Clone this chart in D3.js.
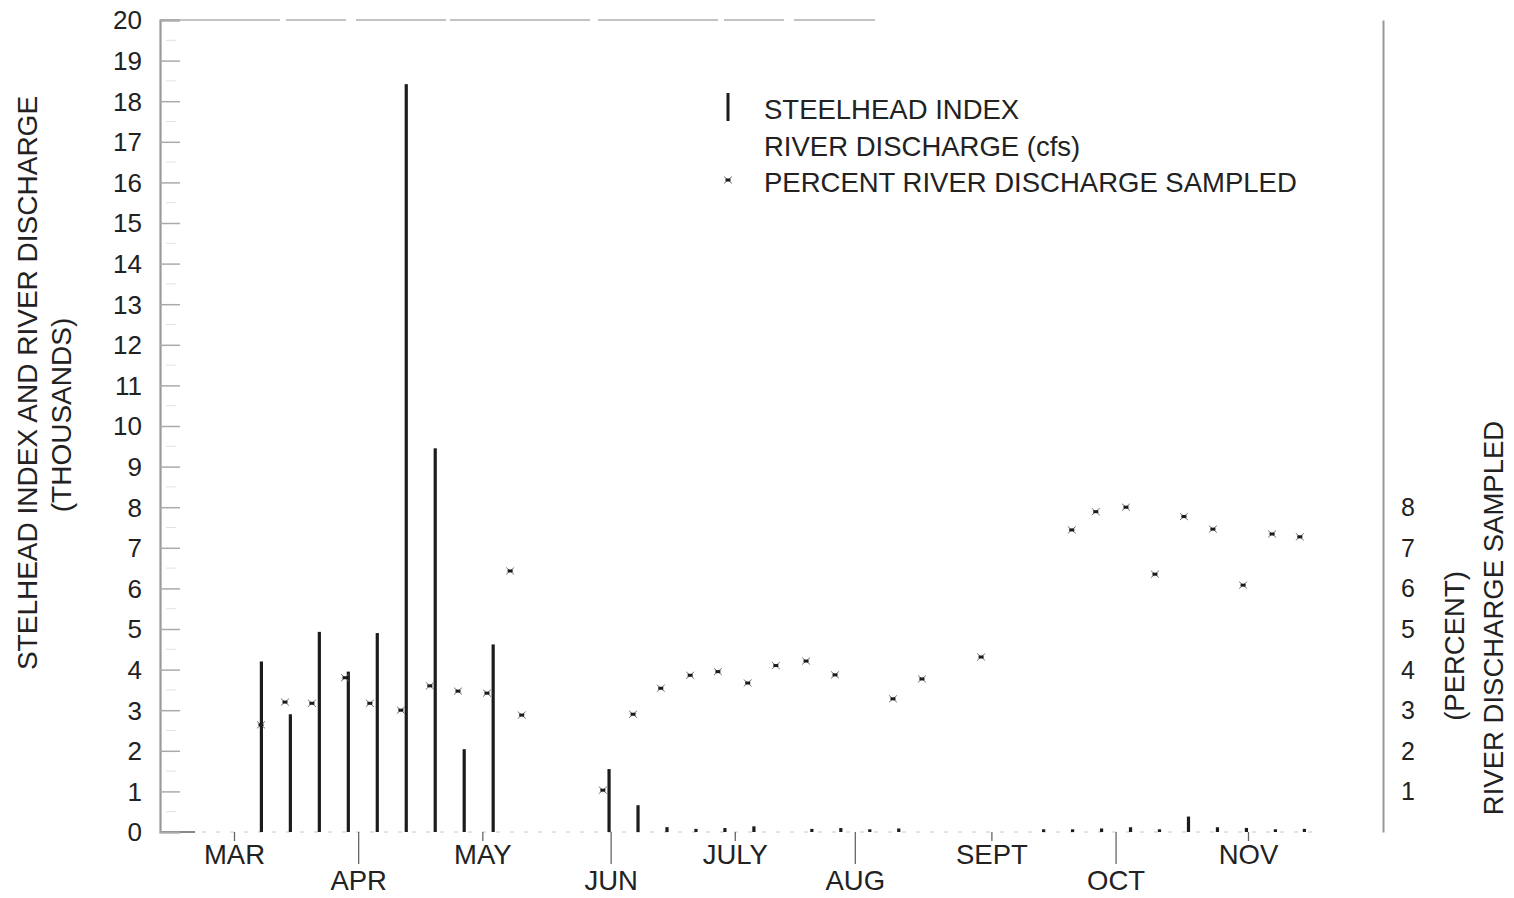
<!DOCTYPE html>
<html>
<head>
<meta charset="utf-8">
<script src="https://cdn.jsdelivr.net/npm/d3@7/dist/d3.min.js"></script>
<style>
  html, body { margin: 0; padding: 0; background: #fff; }
  svg { display: block; }
  text { font-family: "Liberation Sans", Arial, Helvetica, sans-serif; fill: #222; }
</style>
</head>
<body>
<svg id="chart" width="1514" height="898"></svg>
<script>
// ---- DATA ----
// Sample dates as days after March 1 (weekly sampling)
const indexDays = [6.5, 13.5, 20.5, 27.5, 34.5, 41.5, 48.5, 55.5, 62.5, 69.5, 76.5, 83.5,
  90.5, 97.5, 104.5, 111.5, 118.5, 125.5, 132.5, 139.5, 146.5, 153.5, 160.5,
  195.5, 202.5, 209.5, 216.5, 223.5, 230.5, 237.5, 244.5, 251.5, 258.5];
// Steelhead index (thousands)
const indexValues = [4.2, 2.9, 4.93, 3.95, 4.9, 18.42, 9.45, 2.04, 4.62, 0, 0, 0,
  1.55, 0.66, 0.12, 0.04, 0.06, 0.14, 0, 0.04, 0.06, 0.03, 0.05,
  0.03, 0.03, 0.05, 0.08, 0.03, 0.38, 0.08, 0.1, 0.03, 0.04];

// Percent river discharge sampled
const pctDays = [6.4, 12.2, 18.7, 26.7, 32.7, 40.2, 47.2, 54.0, 61.0, 66.6, 69.4,
  89.0, 96.3, 103.0, 110.1, 116.8, 124.0, 130.8, 138.1, 145.1, 159.1, 166.1,
  180.4, 202.3, 208.1, 215.4, 222.4, 229.4, 236.4, 243.7, 250.7, 257.4];
const pctValues = [2.64, 3.2, 3.17, 3.8, 3.17, 3.0, 3.6, 3.47, 3.42, 6.43, 2.88,
  1.03, 2.9, 3.54, 3.86, 3.95, 3.67, 4.1, 4.21, 3.87, 3.28, 3.77,
  4.31, 7.44, 7.89, 8.0, 6.35, 7.77, 7.46, 6.08, 7.34, 7.27];

// Month ticks (days after March 1) and labels
const monthDays = [0, 30, 60, 91, 121, 150, 183, 213, 245];
const monthLabels = ["MAR", "APR", "MAY", "JUN", "JULY", "AUG", "SEPT", "OCT", "NOV"];

const leftTicks = d3.range(0, 21);
const rightTicks = [1, 2, 3, 4, 5, 6, 7, 8];

const leftTitle = "STELHEAD INDEX AND RIVER DISCHARGE";
const leftSubtitle = "(THOUSANDS)";
const rightTitle = "RIVER DISCHARGE SAMPLED";
const rightSubtitle = "(PERCENT)";
const legendLabels = ["STEELHEAD INDEX", "RIVER DISCHARGE (cfs)", "PERCENT RIVER DISCHARGE SAMPLED"];

// ---- LAYOUT ----
const svg = d3.select("#chart");
const plotLeft = 160, plotRight = 1383, plotTop = 20, plotBottom = 832;
const FS = 27.5;

const x = d3.scaleLinear().domain([-18, 277.5]).range([plotLeft, plotRight]);
const y = d3.scaleLinear().domain([0, 20]).range([plotBottom, plotTop]);
const yR = d3.scaleLinear().domain([0, 20]).range([plotBottom, plotTop]);

// faint top border fragment
svg.append("line")
  .attr("x1", plotLeft).attr("x2", 875).attr("y1", plotTop).attr("y2", plotTop)
  .attr("stroke", "#b0b0b0").attr("stroke-width", 1.5)
  .attr("stroke-dasharray", "120,6,60,10,90,4,140,8");

// faint baseline
svg.append("line")
  .attr("x1", plotLeft).attr("x2", 1320).attr("y1", plotBottom).attr("y2", plotBottom)
  .attr("stroke", "#c8c8c8").attr("stroke-width", 1)
  .attr("stroke-dasharray", "4,10");
svg.append("line")
  .attr("x1", plotLeft).attr("x2", 195).attr("y1", plotBottom).attr("y2", plotBottom)
  .attr("stroke", "#888").attr("stroke-width", 2);

// Left axis
const leftAxis = d3.axisRight(y).tickValues(leftTicks).tickSize(20).tickFormat("");
const gL = svg.append("g").attr("transform", `translate(${plotLeft},0)`).call(leftAxis);
gL.select(".domain").attr("stroke", "#999").attr("stroke-width", 2.2);
gL.selectAll(".tick line").attr("stroke", "#aaa").attr("stroke-width", 1.5);
// half ticks
svg.append("g").selectAll("line")
  .data(d3.range(0.5, 20, 1)).join("line")
  .attr("x1", plotLeft + 6).attr("x2", plotLeft + 16)
  .attr("y1", d => y(d)).attr("y2", d => y(d))
  .attr("stroke", "#e2e2e2").attr("stroke-width", 1);
svg.append("g").selectAll("text")
  .data(leftTicks).join("text")
  .attr("x", 142).attr("y", d => y(d))
  .attr("dy", "0.36em").attr("text-anchor", "end")
  .attr("font-size", 26)
  .text(d => d);

// Right axis
const rightAxis = d3.axisRight(yR).tickValues(rightTicks).tickSize(0).tickFormat("");
const gR = svg.append("g").attr("transform", `translate(${plotRight},0)`).call(rightAxis);
gR.select(".domain").attr("stroke", "#999").attr("stroke-width", 2);
svg.append("g").selectAll("text")
  .data(rightTicks).join("text")
  .attr("x", 1408).attr("y", d => yR(d))
  .attr("dy", "0.36em").attr("text-anchor", "middle")
  .attr("font-size", 25)
  .text(d => d);

// Bottom month ticks & labels
const gM = svg.append("g");
gM.selectAll("line").data(monthDays).join("line")
  .attr("x1", d => x(d)).attr("x2", d => x(d))
  .attr("y1", plotBottom)
  .attr("y2", (d, i) => i % 2 ? plotBottom + 32 : plotBottom + 9)
  .attr("stroke", "#666").attr("stroke-width", 1.3);
gM.selectAll("text").data(monthDays).join("text")
  .attr("x", d => x(d))
  .attr("y", (d, i) => i % 2 ? 890 : 864)
  .attr("text-anchor", "middle")
  .attr("font-size", FS)
  .text((d, i) => monthLabels[i]);

// Bars: steelhead index
const bars = indexDays.map((d, i) => ({ day: d, v: indexValues[i] }));
svg.append("g").selectAll("rect").data(bars).join("rect")
  .attr("x", d => x(d.day) - 1.6)
  .attr("width", 3.2)
  .attr("y", d => y(d.v) - (d.v < 0.1 ? 1.5 : 0))
  .attr("height", d => Math.max(0, y(0) - y(d.v)) + (d.v < 0.1 ? 1.5 : 0))
  .attr("fill", "#1c1c1c")
  .attr("opacity", d => d.v === 0 ? 0 : 1);

// Percent markers
function pctMark(g) {
  g.append("path")
    .attr("d", "M-4,-3.5 L4,3.5 M-4,3.5 L4,-3.5")
    .attr("stroke", "#666").attr("stroke-width", 0.9).attr("fill", "none");
  g.append("rect")
    .attr("x", -2.5).attr("y", -1.5).attr("width", 5).attr("height", 3)
    .attr("fill", "#1c1c1c");
}
const pct = pctDays.map((d, i) => ({ day: d, v: pctValues[i] }));
svg.append("g").selectAll("g").data(pct).join("g")
  .attr("transform", d => `translate(${x(d.day)},${yR(d.v)})`)
  .each(function () { pctMark(d3.select(this)); });

// Axis titles
svg.append("text")
  .attr("transform", "translate(37,383) rotate(-90)")
  .attr("text-anchor", "middle").attr("font-size", 28)
  .text(leftTitle);
svg.append("text")
  .attr("transform", "translate(71,415) rotate(-90)")
  .attr("text-anchor", "middle").attr("font-size", 28)
  .text(leftSubtitle);
svg.append("text")
  .attr("transform", "translate(1503,618) rotate(-90)")
  .attr("text-anchor", "middle").attr("font-size", 27.5)
  .text(rightTitle);
svg.append("text")
  .attr("transform", "translate(1464,646) rotate(-90)")
  .attr("text-anchor", "middle").attr("font-size", 27.5)
  .text(rightSubtitle);

// Legend
const lg = svg.append("g");
lg.append("rect").attr("x", 726.5).attr("y", 93).attr("width", 3).attr("height", 28).attr("fill", "#1c1c1c");
const pm = lg.append("g").attr("transform", "translate(728,180)");
pctMark(pm);
lg.selectAll("text").data(legendLabels).join("text")
  .attr("x", 764)
  .attr("y", (d, i) => [119, 156, 192][i])
  .attr("font-size", FS)
  .text(d => d);
</script>
</body>
</html>
